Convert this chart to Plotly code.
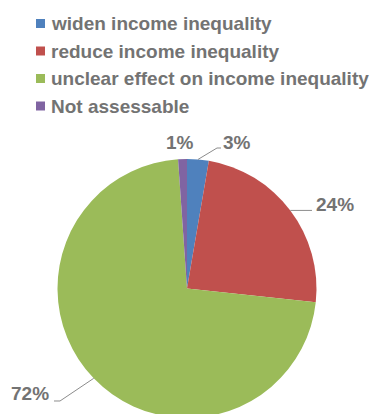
import math
import plotly.graph_objects as go

labels = ["widen income inequality", "reduce income inequality",
          "unclear effect on income inequality", "Not assessable"]
values = [2.7, 24.0, 72.2, 1.1]
colors = ["#4F81BD", "#C0504D", "#9BBB59", "#8064A2"]

W, H = 374, 418
TXT = "#737373"
FONT = dict(family="Arial, Liberation Sans, sans-serif", size=19, color=TXT, weight="bold")

def px(x):
    return x / W

def py(y):
    return 1 - y / H

# pie geometry (pixels from top-left)
R = 129.5
CX, CY = W / 2, H - R

fig = go.Figure(go.Pie(
    labels=labels, values=values, sort=False, direction="clockwise", rotation=0,
    marker=dict(colors=colors, line=dict(width=0)),
    textinfo="none", hoverinfo="label+percent",
    domain=dict(x=[0, 1], y=[0, 2 * R / H]),
    showlegend=False,
))

shapes = []
annotations = []

# legend (manual, Excel style)
leg_rows = [23.5, 51, 78.5, 106]
for lab, col, yc in zip(labels, colors, leg_rows):
    shapes.append(dict(type="rect", xref="paper", yref="paper",
                       x0=px(36), x1=px(45), y0=py(yc - 4.5), y1=py(yc + 4.5),
                       fillcolor=col, line=dict(width=0)))
    annotations.append(dict(text=lab, xref="paper", yref="paper", x=px(48.5), y=py(yc),
                            xanchor="left", yanchor="middle", showarrow=False, font=FONT))

# data labels
total = sum(values)
cum = 0
mids = []
for v in values:
    mids.append((cum + v / 2) / total * 2 * math.pi)
    cum += v

label_pos = [(221, 143, "left"), (314, 204, "left"), (51, 393, "right"), (196, 143, "right")]
elbows = [[(217, 148), (221, 148)], [(312, None)], [(60, 401), (54, 401)], None]

for v, a, (lx, ly, anc), elb in zip(values, mids, label_pos, elbows):
    annotations.append(dict(text=f"{round(v)}%", xref="paper", yref="paper", x=px(lx), y=py(ly),
                            xanchor=anc, yanchor="middle", showarrow=False, font=FONT))
    if elb:
        sx = CX + R * math.sin(a)
        sy = CY - R * math.cos(a)
        pts = [(sx, sy)] + [(ex, sy if ey is None else ey) for ex, ey in elb]
        path = "M " + " L ".join(f"{px(x):.5f},{py(y):.5f}" for x, y in pts)
        shapes.append(dict(type="path", xref="paper", yref="paper", path=path,
                           line=dict(color="#8C8C8C", width=1)))

fig.update_layout(
    width=W, height=H, margin=dict(l=0, r=0, t=0, b=0),
    paper_bgcolor="white", plot_bgcolor="white",
    shapes=shapes, annotations=annotations,
)

fig.write_html("out.html", post_script="document.documentElement.style.overflow='hidden';document.body.style.overflow='hidden';")
